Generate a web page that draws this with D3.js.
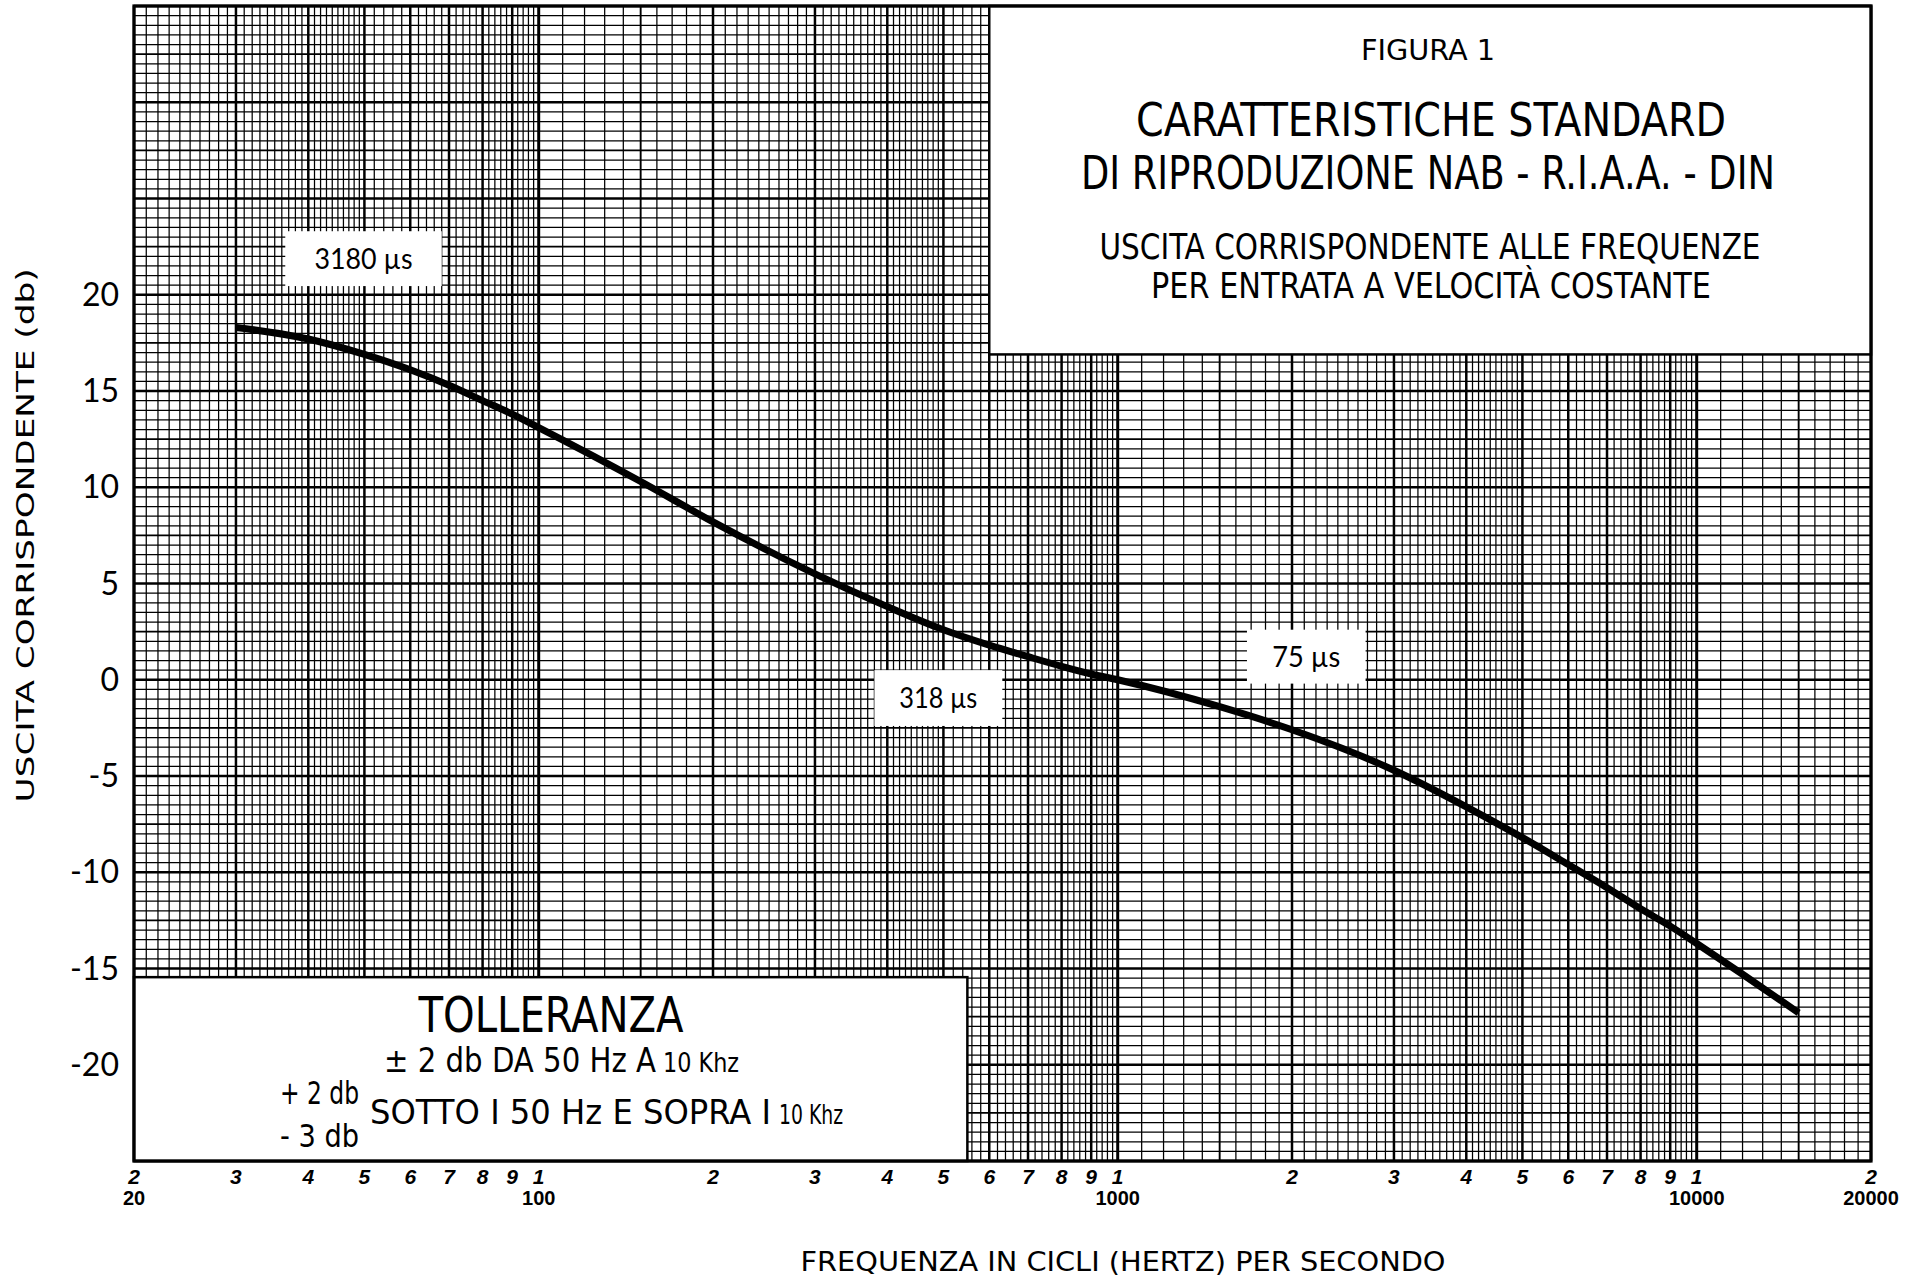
<!DOCTYPE html>
<html>
<head>
<meta charset="utf-8">
<script src="https://cdn.jsdelivr.net/npm/d3@7"></script>
<style>
  html, body { margin: 0; padding: 0; background: #fff; }
  svg { display: block; }
</style>
</head>
<body>
<svg id="chart" width="1926" height="1277"></svg>
<script>
// ---------------- DATA ----------------
const frequencyHz = [30, 40, 50, 60, 70, 80, 90, 100, 150, 200, 300, 400, 500, 600, 700, 800, 900, 1000,
                     1500, 2000, 3000, 4000, 5000, 6000, 7000, 8000, 9000, 10000, 12000, 15000];
const responseDb  = [18.3, 17.7, 16.9, 16.1, 15.3, 14.5, 13.8, 13.1, 10.3, 8.2, 5.5, 3.8, 2.6, 1.8, 1.2, 0.7, 0.3, 0.0,
                     -1.4, -2.6, -4.7, -6.6, -8.2, -9.6, -10.8, -11.9, -12.8, -13.7, -15.3, -17.3];

const yTickValues   = [20, 15, 10, 5, 0, -5, -10, -15, -20];
const xDigitTicks   = [20, 30, 40, 50, 60, 70, 80, 90, 100, 200, 300, 400, 500, 600, 700, 800, 900,
                       1000, 2000, 3000, 4000, 5000, 6000, 7000, 8000, 9000, 10000, 20000];
const xDecadeTicks  = [20, 100, 1000, 10000, 20000];

const timeConstantLabels = ["3180 µs", "318 µs", "75 µs"];
const titleLines = ["FIGURA 1", "CARATTERISTICHE STANDARD", "DI RIPRODUZIONE NAB - R.I.A.A. - DIN",
                    "USCITA CORRISPONDENTE ALLE FREQUENZE", "PER ENTRATA A VELOCITÀ COSTANTE"];
const yAxisTitle = "USCITA CORRISPONDENTE (db)";
const xAxisTitle = "FREQUENZA IN CICLI (HERTZ) PER SECONDO";

// ---------------- SCALES ----------------
const svg = d3.select("#chart");
const x = d3.scaleLog().domain([20, 20000]).range([134, 1871]);
const y = d3.scaleLinear().domain([-25, 35]).range([1161, 6]);

const NARROW = "'Liberation Sans Narrow','DejaVu Sans Condensed','Liberation Sans',Arial,sans-serif";
const ROUND  = "Lato,'Noto Sans','DejaVu Sans',sans-serif";

svg.append("rect").attr("width", 1926).attr("height", 1277).attr("fill", "#fff");

// ---------------- GRAPH PAPER ----------------
const vLines = [];
for (let dec = 10; dec <= 10000; dec *= 10) {
  for (let t = 10; t < 100; t += (t < 50 ? 1 : 2)) {
    const f = dec * t / 10;
    if (f < 20 || f > 20000) continue;
    let w = "minor";
    if (t % 10 === 0) w = (t === 10) ? "decade" : "major";
    else if (t === 15) w = "medium";
    vLines.push({ f, w });
  }
}
const hLines = [];
for (let k = -50; k <= 70; k++) {
  const v = k / 2;
  let w = "minor";
  if (k % 10 === 0) w = "major";
  else if (k % 5 === 0) w = "medium";
  hLines.push({ v, w });
}
const widths = { minor: 1.25, medium: 1.9, major: 2.5, decade: 3.0 };

const grid = svg.append("g");
grid.selectAll("line.v").data(vLines).join("line")
  .attr("x1", d => x(d.f)).attr("x2", d => x(d.f))
  .attr("y1", y(35)).attr("y2", y(-25))
  .attr("stroke", "#000").attr("stroke-width", d => widths[d.w]);
grid.selectAll("line.h").data(hLines).join("line")
  .attr("x1", x(20)).attr("x2", x(20000))
  .attr("y1", d => y(d.v)).attr("y2", d => y(d.v))
  .attr("stroke", "#000").attr("stroke-width", d => widths[d.w]);

// ---------------- WHITE BOXES ----------------
// title box (upper right)
svg.append("rect").attr("x", x(600)).attr("y", y(35)).attr("width", x(20000) - x(600)).attr("height", y(16.9) - y(35))
  .attr("fill", "#fff").attr("stroke", "#000").attr("stroke-width", 2.5);
// tolerance box (lower left)
svg.append("rect").attr("x", x(20)).attr("y", y(-15.45)).attr("width", x(550) - x(20)).attr("height", y(-25) - y(-15.45))
  .attr("fill", "#fff").attr("stroke", "#000").attr("stroke-width", 2.5);

// plot frame
svg.append("rect").attr("x", x(20)).attr("y", y(35)).attr("width", x(20000) - x(20)).attr("height", y(-25) - y(35))
  .attr("fill", "none").attr("stroke", "#000").attr("stroke-width", 3.2);

// ---------------- CURVE ----------------
const pts = frequencyHz.map((f, i) => [x(f), y(responseDb[i])]);
svg.append("path")
  .attr("d", d3.line().curve(d3.curveMonotoneX)(pts))
  .attr("fill", "none").attr("stroke", "#000").attr("stroke-width", 7)
  .attr("stroke-linecap", "butt");

// ---------------- TIME-CONSTANT LABEL BOXES ----------------
const labelBoxes = [
  { t: timeConstantLabels[0], f0: 36.5, f1: 68, d0: 23.3, d1: 20.45, w: 98 },
  { t: timeConstantLabels[1], f0: 380, f1: 632, d0: 0.5, d1: -2.4, w: 78 },
  { t: timeConstantLabels[2], f0: 1672, f1: 2680, d0: 2.6, d1: -0.2, w: 68 }
];
labelBoxes.forEach(b => {
  const x0 = x(b.f0), x1 = x(b.f1), y0 = y(b.d0), y1 = y(b.d1);
  svg.append("rect").attr("x", x0).attr("y", y0).attr("width", x1 - x0).attr("height", y1 - y0).attr("fill", "#fff");
  svg.append("text").attr("x", (x0 + x1) / 2).attr("y", (y0 + y1) / 2 + 10)
    .attr("text-anchor", "middle").attr("font-family", ROUND).attr("font-size", 29)
    .attr("textLength", b.w).attr("lengthAdjust", "spacingAndGlyphs")
    .text(b.t);
});

// ---------------- TITLE TEXT ----------------
function putText(str, cx, baseline, size, len, family, anchor) {
  return svg.append("text").attr("x", cx).attr("y", baseline)
    .attr("text-anchor", anchor || "middle").attr("font-family", family || NARROW)
    .attr("font-size", size).attr("textLength", len).attr("lengthAdjust", "spacingAndGlyphs")
    .attr("fill", "#000").text(str);
}
putText(titleLines[0], 1428, 60, 29, 134);
putText(titleLines[1], 1431, 136, 47, 590);
putText(titleLines[2], 1428, 189, 47, 694);
putText(titleLines[3], 1430, 259, 35, 661);
putText(titleLines[4], 1431, 298, 35, 560);

// ---------------- TOLERANCE TEXT ----------------
putText("TOLLERANZA", 551, 1032, 50, 265);
putText("± 2 db DA 50 Hz  A", 384, 1072, 33, 272, NARROW, "start");
putText("10 Khz", 663, 1072, 26, 76, NARROW, "start");
putText("+ 2 db", 280, 1104, 32, 79, NARROW, "start");
putText("SOTTO I 50 Hz E SOPRA I", 370, 1124, 33, 401, NARROW, "start");
putText("10 Khz", 779, 1124, 26, 64, NARROW, "start");
putText("- 3 db", 280, 1147, 32, 79, NARROW, "start");

// ---------------- AXES LABELS ----------------
svg.append("g").selectAll("text").data(yTickValues).join("text")
  .attr("x", 119).attr("y", d => y(d) + 11)
  .attr("text-anchor", "end").attr("font-family", ROUND).attr("font-size", 32)
  .attr("fill", "#000").text(d => d);

svg.append("text")
  .attr("transform", `translate(34,${y(7.5)}) rotate(-90)`)
  .attr("text-anchor", "middle").attr("font-family", NARROW).attr("font-size", 25)
  .attr("textLength", 534).attr("lengthAdjust", "spacingAndGlyphs")
  .text(yAxisTitle);

svg.append("g").selectAll("text").data(xDigitTicks).join("text")
  .attr("x", d => x(d)).attr("y", 1184)
  .attr("text-anchor", "middle").attr("font-family", "'Liberation Sans',Arial,sans-serif")
  .attr("font-size", 21).attr("font-weight", "bold").attr("font-style", "italic")
  .text(d => String(d / Math.pow(10, Math.floor(Math.log10(d)))).charAt(0));

svg.append("g").selectAll("text").data(xDecadeTicks).join("text")
  .attr("x", d => x(d)).attr("y", 1205)
  .attr("text-anchor", "middle").attr("font-family", "'Liberation Sans',Arial,sans-serif")
  .attr("font-size", 20).attr("font-weight", "bold")
  .text(d => d);

putText(xAxisTitle, 1123, 1271, 27, 645);
</script>
</body>
</html>
